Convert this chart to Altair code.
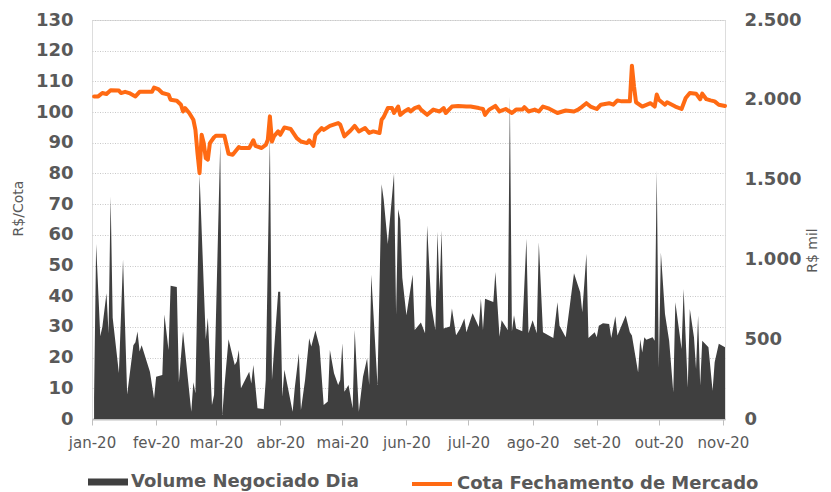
import altair as alt
import pandas as pd

VOL_NAME = "Volume Negociado Dia"
PRICE_NAME = "Cota Fechamento de Mercado"

vol_dates = [
    "2020-01-02", "2020-01-03", "2020-01-05", "2020-01-06", "2020-01-08", "2020-01-09", "2020-01-10",
    "2020-01-11", "2020-01-14", "2020-01-16", "2020-01-18", "2020-01-21", "2020-01-22", "2020-01-23",
    "2020-01-24", "2020-01-25", "2020-01-29", "2020-01-31",
    "2020-02-01", "2020-02-04", "2020-02-05", "2020-02-07", "2020-02-08", "2020-02-11", "2020-02-12",
    "2020-02-14", "2020-02-18", "2020-02-19", "2020-02-20", "2020-02-22", "2020-02-25", "2020-02-26",
    "2020-02-28", "2020-02-29",
    "2020-03-03", "2020-03-04", "2020-03-05", "2020-03-07", "2020-03-10", "2020-03-11", "2020-03-12",
    "2020-03-13", "2020-03-17", "2020-03-18", "2020-03-19", "2020-03-21", "2020-03-24", "2020-03-25",
    "2020-03-27", "2020-03-28", "2020-03-31",
    "2020-04-01", "2020-04-02", "2020-04-03", "2020-04-07", "2020-04-08", "2020-04-10", "2020-04-11",
    "2020-04-13", "2020-04-15", "2020-04-16", "2020-04-18", "2020-04-20", "2020-04-22", "2020-04-24",
    "2020-04-25", "2020-04-27", "2020-04-29", "2020-04-30",
    "2020-05-01", "2020-05-02", "2020-05-04", "2020-05-06", "2020-05-07", "2020-05-09", "2020-05-11",
    "2020-05-13", "2020-05-14", "2020-05-15", "2020-05-18", "2020-05-20", "2020-05-21", "2020-05-23",
    "2020-05-26", "2020-05-27", "2020-05-28", "2020-05-29", "2020-05-30",
    "2020-06-01", "2020-06-04", "2020-06-05", "2020-06-08", "2020-06-10", "2020-06-11", "2020-06-13",
    "2020-06-15", "2020-06-16", "2020-06-17", "2020-06-18", "2020-06-19", "2020-06-22", "2020-06-23",
    "2020-06-25", "2020-06-27", "2020-06-29", "2020-06-30",
    "2020-07-03", "2020-07-06", "2020-07-07", "2020-07-08", "2020-07-09", "2020-07-13", "2020-07-14",
    "2020-07-16", "2020-07-17", "2020-07-20", "2020-07-21", "2020-07-22", "2020-07-23", "2020-07-24",
    "2020-07-27", "2020-07-29", "2020-07-30",
    "2020-08-01", "2020-08-03", "2020-08-04", "2020-08-06", "2020-08-11", "2020-08-13", "2020-08-14",
    "2020-08-17", "2020-08-19", "2020-08-21", "2020-08-24", "2020-08-25", "2020-08-27", "2020-08-28",
    "2020-08-31",
    "2020-09-01", "2020-09-02", "2020-09-04", "2020-09-07", "2020-09-08", "2020-09-10", "2020-09-11",
    "2020-09-15", "2020-09-17", "2020-09-18", "2020-09-21", "2020-09-22", "2020-09-23", "2020-09-24",
    "2020-09-25", "2020-09-28", "2020-09-29", "2020-09-30",
    "2020-10-01", "2020-10-02", "2020-10-04", "2020-10-06", "2020-10-08", "2020-10-09", "2020-10-12",
    "2020-10-13", "2020-10-15", "2020-10-16", "2020-10-18", "2020-10-19", "2020-10-20", "2020-10-21",
    "2020-10-22", "2020-10-25", "2020-10-27", "2020-10-28", "2020-10-30",
    "2020-11-02",
]
vol_values = [
    135, 1096, 519, 577, 788, 538, 1394, 635, 288, 1000, 154, 462, 481, 548, 423, 462, 296, 129,
    265, 275, 654, 433, 835, 827, 231, 548, 46, 231, 162, 1531, 500, 635, 88, 150,
    1731, 25, 202, 500, 338, 360, 433, 192, 296, 223, 338, 67, 62, 244, 1769, 244, 798,
    798, 140, 308, 46, 192, 412, 56, 244, 506, 454, 554, 454, 88, 110, 433, 287, 213, 244,
    475, 171, 213, 67, 558, 46, 265, 381, 213, 904, 213, 1471, 1377, 1096, 1538, 654, 1315, 1250, 885,
    650, 904, 558, 604, 537, 1212, 712, 558, 1173, 798, 1181, 567, 579, 692, 525, 567, 629, 544,
    662, 577, 754, 558, 754, 733, 921, 515, 619, 558, 2019, 548, 650, 567, 550, 1129, 537,
    619, 537, 1108, 544, 508, 731, 585, 512, 712, 913, 794, 669, 1035, 508, 544,
    512, 585, 600, 596, 508, 644, 523, 648, 544, 523, 292, 500, 417, 512, 496, 512, 490, 1558,
    323, 1044, 658, 490, 167, 731, 438, 815, 198, 690, 512, 313, 648, 210, 490, 450, 177, 356, 471,
    450,
]

price_dates = [
    "2020-01-02", "2020-01-04", "2020-01-06", "2020-01-08", "2020-01-10", "2020-01-14", "2020-01-15",
    "2020-01-17", "2020-01-19", "2020-01-22", "2020-01-24", "2020-01-30", "2020-01-31",
    "2020-02-02", "2020-02-04", "2020-02-07", "2020-02-08", "2020-02-11", "2020-02-13", "2020-02-14",
    "2020-02-15", "2020-02-17", "2020-02-19", "2020-02-20", "2020-02-21", "2020-02-22", "2020-02-23",
    "2020-02-24", "2020-02-25", "2020-02-26", "2020-02-27", "2020-02-29",
    "2020-03-01", "2020-03-05", "2020-03-07", "2020-03-09", "2020-03-12", "2020-03-13", "2020-03-17",
    "2020-03-19", "2020-03-20", "2020-03-23", "2020-03-25", "2020-03-26", "2020-03-27", "2020-03-28",
    "2020-03-29", "2020-03-31",
    "2020-04-01", "2020-04-03", "2020-04-06", "2020-04-09", "2020-04-11", "2020-04-14", "2020-04-15",
    "2020-04-17", "2020-04-18", "2020-04-21", "2020-04-22", "2020-04-25", "2020-04-29", "2020-04-30",
    "2020-05-02", "2020-05-05", "2020-05-07", "2020-05-09", "2020-05-12", "2020-05-14", "2020-05-16",
    "2020-05-19", "2020-05-20", "2020-05-21", "2020-05-23", "2020-05-25", "2020-05-26", "2020-05-28",
    "2020-05-29", "2020-05-31",
    "2020-06-02", "2020-06-03", "2020-06-05", "2020-06-07", "2020-06-08", "2020-06-11", "2020-06-14",
    "2020-06-17", "2020-06-19", "2020-06-20", "2020-06-23", "2020-06-26", "2020-06-30",
    "2020-07-02", "2020-07-06", "2020-07-08", "2020-07-09", "2020-07-11", "2020-07-14", "2020-07-16",
    "2020-07-19", "2020-07-22", "2020-07-24", "2020-07-27", "2020-07-28", "2020-07-30",
    "2020-08-02", "2020-08-04", "2020-08-06", "2020-08-09", "2020-08-13", "2020-08-17", "2020-08-21",
    "2020-08-23", "2020-08-25", "2020-08-27", "2020-08-29",
    "2020-09-01", "2020-09-03", "2020-09-07", "2020-09-09", "2020-09-11", "2020-09-13", "2020-09-17",
    "2020-09-18", "2020-09-19", "2020-09-20", "2020-09-23", "2020-09-27", "2020-09-29", "2020-09-30",
    "2020-10-01", "2020-10-04", "2020-10-05", "2020-10-09", "2020-10-12", "2020-10-14", "2020-10-16",
    "2020-10-19", "2020-10-21", "2020-10-22", "2020-10-24", "2020-10-26", "2020-10-28", "2020-10-30",
    "2020-11-02",
]
price_values = [
    105.1, 105.1, 106.2, 105.9, 107.1, 107.0, 106.2, 106.6, 106.2, 105.1, 106.6, 106.6, 108.0,
    107.5, 106.2, 105.7, 104.0, 103.7, 102.4, 100.2, 101.3, 99.7, 97.5, 94.2, 86.6, 80.1, 92.6,
    89.9, 85.0, 84.5, 89.9, 91.8,
    92.3, 92.3, 86.4, 86.1, 88.6, 88.3, 88.3, 90.8, 89.0, 88.3, 89.3, 91.0, 98.6, 90.4, 92.1, 93.7,
    92.6, 95.0, 94.5, 91.5, 90.4, 89.9, 90.8, 89.0, 92.6, 94.8, 94.2, 95.5, 96.4, 95.9,
    92.1, 94.0, 95.5, 93.7, 94.8, 93.2, 93.7, 93.2, 97.5, 98.4, 101.3, 101.3, 99.7, 101.8, 99.1, 100.2,
    101.0, 100.2, 101.3, 101.8, 100.8, 99.1, 100.8, 100.2, 101.3, 99.7, 101.8, 102.0, 101.8,
    101.8, 101.3, 101.0, 99.1, 100.8, 102.0, 100.2, 101.0, 99.7, 100.8, 100.8, 101.6, 100.2,
    100.8, 100.2, 101.8, 101.1, 99.7, 100.5, 100.2, 100.8, 101.8, 102.9, 101.8,
    101.0, 102.4, 102.9, 102.4, 103.8, 103.5, 103.5, 115.1, 108.4, 103.2, 101.8, 102.9, 101.8, 105.7,
    104.0, 102.4, 103.2, 101.8, 101.0, 104.6, 106.2, 106.0, 104.2, 106.0, 104.2, 103.8, 103.5, 102.4,
    102.0,
]

month_names = ["jan", "fev", "mar", "abr", "mai", "jun", "jul", "ago", "set", "out", "nov", "dez"]
left_ticks = list(range(0, 131, 10))
right_ticks = [0, 500, 1000, 1500, 2000, 2500]

vol_df = pd.DataFrame({"data": vol_dates, "volume": vol_values, "serie": VOL_NAME})
price_df = pd.DataFrame({"data": price_dates, "cota": price_values, "serie": PRICE_NAME})

TEXT = "#595959"
FONT = "DejaVu Sans"

month_js = "[" + ",".join("'%s'" % m for m in month_names) + "]"
x_ticks = [alt.DateTime(year=2020, month=m, date=1, utc=True) for m in range(1, 12)]

x_enc = alt.X(
    "data:T",
    scale=alt.Scale(
        type="utc",
        domain=[alt.DateTime(year=2020, month=1, date=1, utc=True),
                alt.DateTime(year=2020, month=11, date=2, utc=True)],
    ),
    axis=alt.Axis(
        values=x_ticks,
        labelExpr=month_js + "[utcmonth(datum.value)] + '-' + utcFormat(datum.value, '%y')",
        title=None, grid=False,
        domainColor="#BFBFBF", domainWidth=2,
        tickColor="#BFBFBF", tickSize=6, tickWidth=1,
        labelFont=FONT, labelFontSize=15, labelColor=TEXT, labelPadding=10,
        labelAngle=0, labelOverlap=False, labelFlush=False, labelAlign="center",
    ),
)

area = alt.Chart(vol_df).mark_area(opacity=1, interpolate="linear").encode(
    x=x_enc,
    y=alt.Y(
        "volume:Q",
        scale=alt.Scale(domain=[0, 2500], nice=False),
        axis=alt.Axis(
            orient="right", values=right_ticks,
            labelExpr="replace(format(datum.value, ','), ',', '.')",
            grid=False, domain=False, ticks=False,
            labelFont=FONT, labelFontWeight="bold", labelFontSize=18, labelColor=TEXT, labelPadding=19,
            title="R$ mil", titleFont=FONT, titleFontWeight="normal", titleFontSize=14, titleColor=TEXT,
            titleAngle=270, titleX=87, titleY=230, titleAlign="center", titleBaseline="middle",
        ),
    ),
    fill=alt.Fill(
        "serie:N",
        scale=alt.Scale(domain=[VOL_NAME], range=["#3F3F3F"]),
        legend=alt.Legend(
            orient="none", legendX=-4, legendY=442, title=None,
            symbolType="M-1,-0.18H1V0.18H-1Z", symbolSize=1600, symbolStrokeWidth=0,
            symbolOpacity=1,
            labelFont=FONT, labelFontSize=18, labelFontWeight="bold", labelColor=TEXT,
            labelOffset=3, labelLimit=500,
        ),
    ),
)

line = alt.Chart(price_df).mark_line(strokeWidth=4, strokeJoin="round", strokeCap="round").encode(
    x=x_enc,
    y=alt.Y(
        "cota:Q",
        scale=alt.Scale(domain=[0, 130], nice=False),
        axis=alt.Axis(
            orient="left", values=left_ticks,
            grid=True, gridColor="#C8C8C8", gridDash=[1, 1.5], gridWidth=1,
            domain=False, ticks=False,
            labelFont=FONT, labelFontWeight="bold", labelFontSize=18, labelColor=TEXT, labelPadding=19,
            title="R$/Cota", titleFont=FONT, titleFontWeight="normal", titleFontSize=14, titleColor=TEXT,
            titleAngle=270, titleX=-74, titleY=188, titleAlign="center", titleBaseline="middle",
        ),
    ),
    stroke=alt.Stroke(
        "serie:N",
        scale=alt.Scale(domain=[PRICE_NAME], range=["#FF6A13"]),
        legend=alt.Legend(
            orient="none", legendX=318, legendY=442, title=None,
            symbolType="stroke", symbolSize=1600, symbolStrokeWidth=4,
            labelFont=FONT, labelFontSize=18, labelFontWeight="bold", labelColor=TEXT,
            labelOffset=3, labelLimit=500,
        ),
    ),
)

chart = (
    alt.layer(area, line)
    .resolve_scale(y="independent", fill="independent", stroke="independent")
    .properties(
        width=633, height=399,
        autosize=alt.AutoSizeParams(type="none"),
        padding={"left": 84, "top": 12, "right": 98, "bottom": 73},
        background="white",
    )
    .configure_view(stroke=None)
    .configure(font=FONT)
)

chart.save("out.html", embed_options={"renderer": "svg", "actions": False})
